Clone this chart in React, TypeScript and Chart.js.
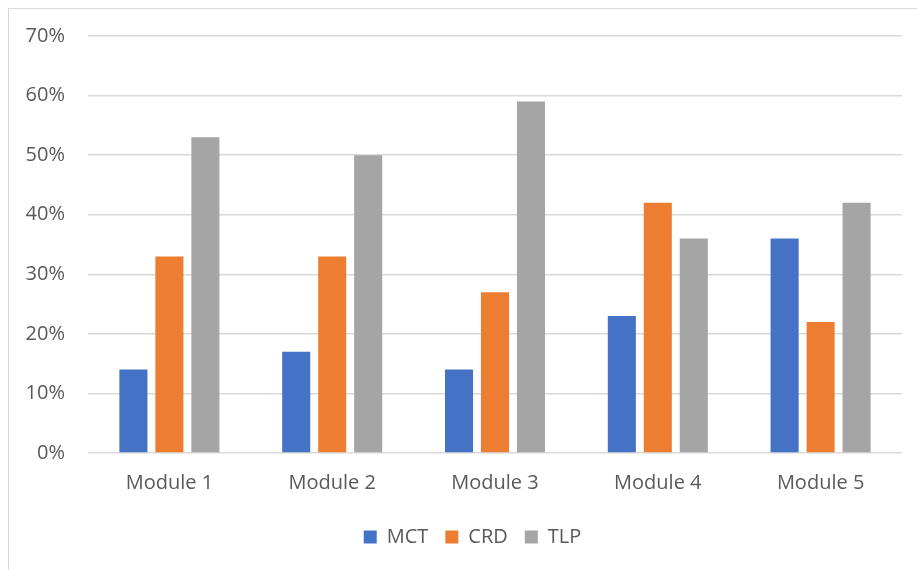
import React, { useEffect, useRef } from "react";
import { Chart, registerables } from "chart.js";

Chart.register(...registerables);

// Module scores, in percent
const modules = ["Module 1", "Module 2", "Module 3", "Module 4", "Module 5"];
const mct = [14, 17, 14, 23, 36];
const crd = [33, 33, 27, 42, 22];
const tlp = [53, 50, 59, 36, 42];
const yTicks = [0, 10, 20, 30, 40, 50, 60, 70];

const TEXT = "#595959";
const GRID = "#d9d9d9";
const FONT = "'Open Sans', 'Liberation Sans', sans-serif";

export default function App() {
  const canvasRef = useRef<HTMLCanvasElement | null>(null);

  useEffect(() => {
    const canvas = canvasRef.current;
    if (!canvas) return;
    const chart = new Chart(canvas, {
      type: "bar",
      data: {
        labels: modules,
        datasets: [
          { label: "MCT", data: mct, backgroundColor: "#4472C4" },
          { label: "CRD", data: crd, backgroundColor: "#ED7D31" },
          { label: "TLP", data: tlp, backgroundColor: "#A5A5A5" },
        ],
      },
      options: {
        animation: false,
        responsive: false,
        maintainAspectRatio: false,
        devicePixelRatio: 1,
        datasets: {
          bar: { categoryPercentage: 0.663, barPercentage: 0.78 },
        },
        layout: { padding: { top: 27, left: 0, right: 0, bottom: 0 } },
        plugins: {
          tooltip: { enabled: false },
          legend: {
            position: "bottom",
            labels: {
              boxWidth: 13,
              boxHeight: 13,
              padding: 17,
              color: TEXT,
              font: { family: FONT, size: 20 },
            },
          },
        },
        scales: {
          x: {
            grid: { display: false, drawTicks: false },
            border: { display: false },
            ticks: {
              color: TEXT,
              padding: 18,
              font: { family: FONT, size: 20 },
              maxRotation: 0,
            },
            afterFit: (scale: any) => {
              scale.height = 57;
            },
          },
          y: {
            min: 0,
            max: 70,
            afterBuildTicks: (scale: any) => {
              scale.ticks = yTicks.map((v) => ({ value: v }));
            },
            grid: { color: GRID, lineWidth: 1.5, drawTicks: false },
            border: { display: false },
            ticks: {
              color: TEXT,
              padding: 23,
              font: { family: FONT, size: 20 },
              callback: (v: any) => `${v}%`,
            },
            afterFit: (scale: any) => {
              // fixed axis width; keep only half a label of room above/below
              scale.width = 79;
              scale.paddingTop = 12;
              scale.paddingBottom = 12;
            },
          },
          yRight: {
            position: "right",
            display: true,
            grid: { display: false, drawTicks: false },
            border: { display: false },
            ticks: { display: false },
            afterFit: (scale: any) => {
              scale.width = 34;
            },
          },
        },
      },
    });
    return () => chart.destroy();
  }, []);

  return (
    <div
      style={{
        position: "absolute",
        left: 8,
        top: 8,
        right: 0,
        bottom: 0,
        overflow: "hidden",
      }}
    >
      <div
        style={{
          width: 927,
          height: 600,
          border: `1px solid ${GRID}`,
          background: "#fff",
        }}
      >
        <canvas
          ref={canvasRef}
          width={927}
          height={548}
          style={{ display: "block", width: 927, height: 548 }}
        />
      </div>
    </div>
  );
}
